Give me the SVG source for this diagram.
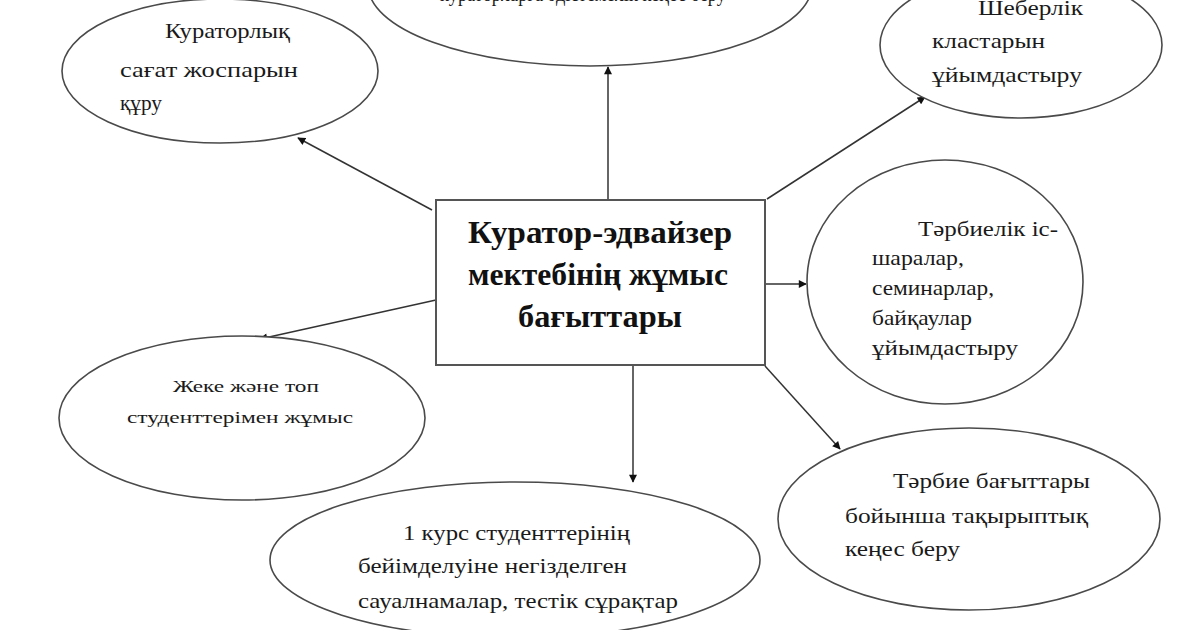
<svg xmlns="http://www.w3.org/2000/svg" width="1200" height="630" viewBox="0 0 1200 630">
  <defs>
    <style>
      .node ellipse { fill: #ffffff; stroke: #4a4a4a; stroke-width: 1.6; }
      .box { fill: #ffffff; stroke: #555555; stroke-width: 2; }
      .t { font-family: "Liberation Serif", "Times New Roman", serif; font-size: 22px; fill: #1a1a1a; }
      .ts { font-family: "Liberation Serif", "Times New Roman", serif; font-size: 17px; fill: #1a1a1a; }
      .tb { font-family: "Liberation Serif", "Times New Roman", serif; font-size: 32px; font-weight: bold; fill: #111111; }
      .conn line { stroke: #333333; stroke-width: 1.5; fill: none; marker-end: url(#arr); }
    </style>
    <marker id="arr" viewBox="0 0 10 10" refX="9" refY="5" markerWidth="9" markerHeight="8" markerUnits="userSpaceOnUse" orient="auto">
      <path d="M0,0 L10,5 L0,10 z" fill="#111111"/>
    </marker>
  </defs>
  <rect width="1200" height="630" fill="#ffffff"/>

  <g id="connectors" class="conn">
    <line x1="608" y1="200" x2="608" y2="67"/>
    <line x1="432" y1="210" x2="298" y2="138"/>
    <line x1="767" y1="199" x2="925" y2="97"/>
    <line x1="765" y1="284" x2="806" y2="284"/>
    <line x1="765" y1="366" x2="840" y2="449"/>
    <line x1="633" y1="366" x2="633" y2="482"/>
    <line x1="436" y1="300" x2="260" y2="339"/>
  </g>

  <g id="node-top" class="node">
    <ellipse cx="590" cy="-15" rx="222" ry="81"/>
    <text class="t" x="440" y="1" textLength="286" lengthAdjust="spacingAndGlyphs">кураторларға әдістемелік кеңес беру</text>
  </g>

  <g id="node-plan" class="node">
    <ellipse cx="220" cy="71" rx="158" ry="72"/>
    <text class="t" x="165" y="38" textLength="125" lengthAdjust="spacingAndGlyphs">Кураторлық</text>
    <text class="t" x="120" y="77" textLength="178" lengthAdjust="spacingAndGlyphs">сағат  жоспарын</text>
    <text class="t" x="120" y="110" textLength="42" lengthAdjust="spacingAndGlyphs">құру</text>
  </g>

  <g id="node-master" class="node">
    <ellipse cx="1021" cy="45" rx="141" ry="73"/>
    <text class="t" x="978" y="15" textLength="105" lengthAdjust="spacingAndGlyphs">Шеберлік</text>
    <text class="t" x="932" y="48" textLength="113" lengthAdjust="spacingAndGlyphs">кластарын</text>
    <text class="t" x="932" y="82" textLength="150" lengthAdjust="spacingAndGlyphs">ұйымдастыру</text>
  </g>

  <g id="node-events" class="node">
    <ellipse cx="945" cy="282" rx="138" ry="122"/>
    <text class="t" x="918" y="236" textLength="140" lengthAdjust="spacingAndGlyphs">Тәрбиелік іс-</text>
    <text class="t" x="872" y="265" textLength="92" lengthAdjust="spacingAndGlyphs">шаралар,</text>
    <text class="t" x="872" y="295" textLength="122" lengthAdjust="spacingAndGlyphs">семинарлар,</text>
    <text class="t" x="872" y="325" textLength="100" lengthAdjust="spacingAndGlyphs">байқаулар</text>
    <text class="t" x="872" y="355" textLength="146" lengthAdjust="spacingAndGlyphs">ұйымдастыру</text>
  </g>

  <g id="node-advice" class="node">
    <ellipse cx="969" cy="519" rx="191" ry="91"/>
    <text class="t" x="893" y="488" textLength="197" lengthAdjust="spacingAndGlyphs">Тәрбие бағыттары</text>
    <text class="t" x="845" y="523" textLength="243" lengthAdjust="spacingAndGlyphs">бойынша тақырыптық</text>
    <text class="t" x="845" y="556" textLength="115" lengthAdjust="spacingAndGlyphs">кеңес беру</text>
  </g>

  <g id="node-survey" class="node">
    <ellipse cx="515" cy="560" rx="245" ry="78"/>
    <text class="t" x="403" y="540" textLength="227" lengthAdjust="spacingAndGlyphs">1 курс студенттерінің</text>
    <text class="t" x="358" y="573" textLength="269" lengthAdjust="spacingAndGlyphs">бейімделуіне негізделген</text>
    <text class="t" x="358" y="608" textLength="320" lengthAdjust="spacingAndGlyphs">сауалнамалар, тестік сұрақтар</text>
  </g>

  <g id="node-students" class="node">
    <ellipse cx="242" cy="418" rx="183" ry="82"/>
    <text class="ts" x="173" y="392" textLength="146" lengthAdjust="spacingAndGlyphs">Жеке және топ</text>
    <text class="ts" x="127" y="423" textLength="226" lengthAdjust="spacingAndGlyphs">студенттерімен жұмыс</text>
  </g>

  <g id="node-center">
    <rect class="box" x="436" y="200" width="329" height="165"/>
    <text class="tb" x="468" y="243" textLength="264" lengthAdjust="spacingAndGlyphs">Куратор-эдвайзер</text>
    <text class="tb" x="468" y="285" textLength="260" lengthAdjust="spacingAndGlyphs">мектебінің жұмыс</text>
    <text class="tb" x="518" y="327" textLength="164" lengthAdjust="spacingAndGlyphs">бағыттары</text>
  </g>
</svg>
